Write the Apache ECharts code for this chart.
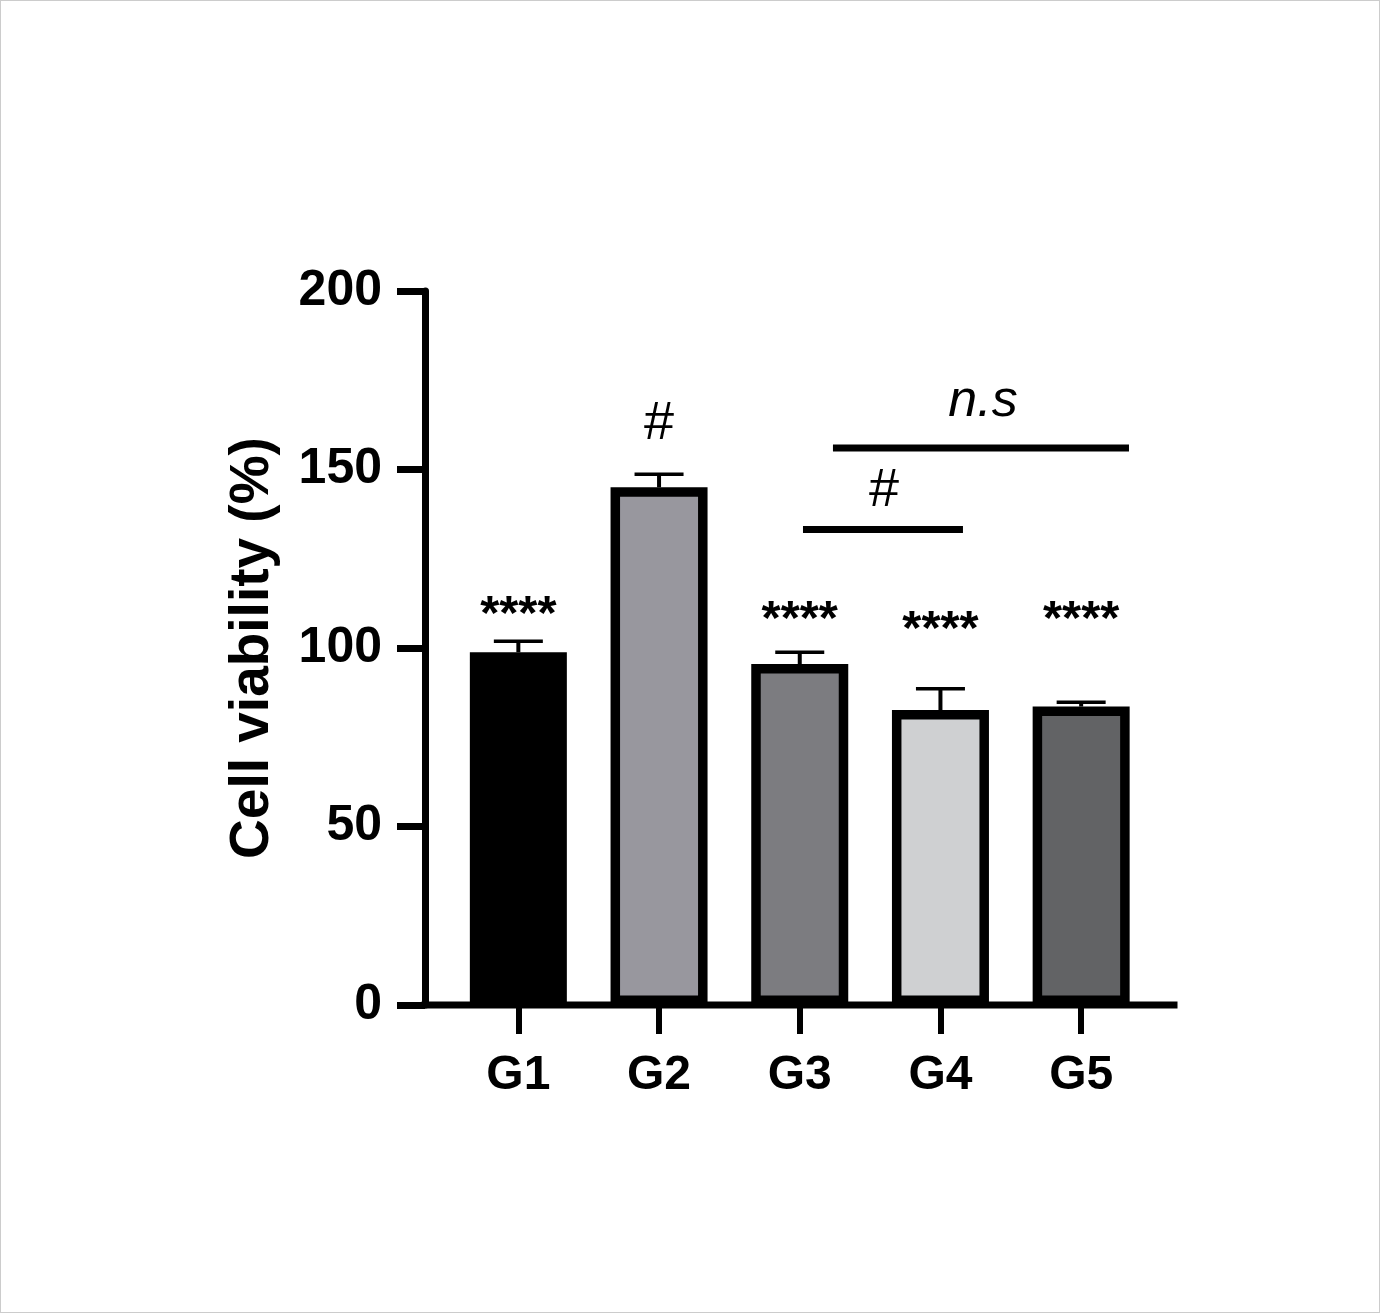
<!DOCTYPE html>
<html>
<head>
<meta charset="utf-8">
<script src="https://cdn.jsdelivr.net/npm/echarts@6/dist/echarts.min.js"></script>
<style>
  html, body { margin: 0; padding: 0; background: #fff; }
  #c { width: 1380px; height: 1313px; box-sizing: border-box; border: 1px solid #cccccc; }
</style>
</head>
<body>
<div id="c"></div>
<script>
// ---- data ----
const categories = ['G1', 'G2', 'G3', 'G4', 'G5'];
const means = [98.8, 145.0, 95.5, 82.6, 83.6];
const errors = [3.1, 3.7, 3.3, 6.0, 1.2];
const barColors = ['#000000', '#98979e', '#7c7c80', '#cfd0d2', '#626365'];
const yMin = 0, yMax = 200, yStep = 50;

// significance marks above bars
const markText = ['****', '#', '****', '****', '****'];
const markY = [109.0, 162.6, 107.6, 104.8, 107.6];

// comparison lines
const cmpFrom = [2.023, 2.236];
const cmpTo = [3.16, 4.34];
const cmpY = [133.2, 156.0];
const cmpText = ['#', 'n.s'];
const cmpTextX = [2.599, 3.302];
const cmpTextY = [143.9, 169.1];
const cmpItalic = [false, true];

// ---- chart ----
const FONT = 'Liberation Sans, Arial, Helvetica, sans-serif';
const W = 1378, H = 1311;
const gridLeft = 447, gridRight = 227.5, gridTop = 290, gridBottom = 307;
const yOffset = 23;

const chart = echarts.init(document.getElementById('c'));

const option = {
  animation: false,
  backgroundColor: '#ffffff',
  grid: { left: gridLeft, right: gridRight, top: gridTop, bottom: gridBottom, containLabel: false },
  xAxis: [
    {
      type: 'category',
      data: categories,
      axisLine: { show: false, onZero: false },
      axisTick: { show: true, alignWithLabel: true, length: 29, lineStyle: { color: '#000', width: 6 } },
      axisLabel: { fontSize: 48, fontWeight: 'bold', color: '#000', margin: 47, fontFamily: FONT },
      splitLine: { show: false }
    },
    { type: 'value', min: -0.5, max: 4.5, show: false, axisLine: { onZero: false } }
  ],
  yAxis: {
    type: 'value',
    min: yMin, max: yMax, interval: yStep,
    offset: yOffset,
    axisLine: { show: true, onZero: false, lineStyle: { color: '#000', width: 7 } },
    axisTick: { show: true, length: 28, lineStyle: { color: '#000', width: 7 } },
    axisLabel: { fontSize: 50, fontWeight: 'bold', color: '#000', margin: 43, fontFamily: FONT, padding: [14, 0, 0, 0] },
    splitLine: { show: false },
    name: 'Cell viability (%)',
    nameLocation: 'middle',
    nameGap: 145,
    nameTextStyle: { fontSize: 55, fontWeight: 'bold', color: '#000', fontFamily: FONT }
  },
  series: [
    {
      type: 'bar',
      data: means.map((m, i) => ({
        value: m,
        itemStyle: { color: barColors[i], borderColor: '#000', borderWidth: 9.5 }
      })),
      barWidth: 97,
      z: 2
    },
    {
      type: 'custom',
      xAxisIndex: 1,
      yAxisIndex: 0,
      z: 3,
      data: means.map((m, i) => [i, m, errors[i]]),
      renderItem: function (params, api) {
        const x = api.value(0), m = api.value(1), e = api.value(2);
        const p0 = api.coord([x, m]);
        const p1 = api.coord([x, m + e]);
        const hw = 24.5;
        return {
          type: 'group',
          children: [
            { type: 'line', shape: { x1: p0[0], y1: p0[1], x2: p1[0], y2: p1[1] }, style: { stroke: '#000', lineWidth: 4 } },
            { type: 'line', shape: { x1: p1[0] - hw, y1: p1[1], x2: p1[0] + hw, y2: p1[1] }, style: { stroke: '#000', lineWidth: 3.5 } }
          ]
        };
      }
    },
    {
      type: 'custom',
      xAxisIndex: 1,
      yAxisIndex: 0,
      z: 4,
      data: markText.map((t, i) => [i, markY[i]]),
      renderItem: function (params, api) {
        const p = api.coord([api.value(0), api.value(1)]);
        const t = markText[params.dataIndex];
        const isHash = t === '#';
        return {
          type: 'text',
          style: {
            x: p[0], y: p[1], text: t,
            fill: '#000', fontSize: isHash ? 54 : 49, fontWeight: isHash ? 'normal' : 'bold',
            fontFamily: FONT, align: 'center', verticalAlign: 'middle'
          }
        };
      }
    },
    {
      type: 'custom',
      xAxisIndex: 1,
      yAxisIndex: 0,
      z: 4,
      data: cmpFrom.map((f, i) => [f, cmpTo[i], cmpY[i], cmpTextX[i], cmpTextY[i]]),
      renderItem: function (params, api) {
        const i = params.dataIndex;
        const a = api.coord([api.value(0), api.value(2)]);
        const b = api.coord([api.value(1), api.value(2)]);
        const t = api.coord([api.value(3), api.value(4)]);
        return {
          type: 'group',
          children: [
            { type: 'line', shape: { x1: a[0], y1: a[1], x2: b[0], y2: b[1] }, style: { stroke: '#000', lineWidth: 7 } },
            { type: 'text', style: {
                x: t[0], y: t[1], text: cmpText[i], fill: '#000',
                fontSize: cmpItalic[i] ? 52 : 54, fontStyle: cmpItalic[i] ? 'italic' : 'normal',
                fontFamily: FONT, align: 'center', verticalAlign: 'middle'
            } }
          ]
        };
      }
    }
  ]
};

chart.setOption(option);

// x-axis baseline (extends beyond the plotting band like the original)
const y0 = chart.convertToPixel({ yAxisIndex: 0 }, yMin);
const xStart = gridLeft - yOffset - 3.5;
const xEnd = W - gridRight + 26;
chart.setOption({
  graphic: [{
    type: 'line', z: 10,
    shape: { x1: xStart, y1: y0, x2: xEnd, y2: y0 },
    style: { stroke: '#000', lineWidth: 7 }
  }]
});
</script>
</body>
</html>
